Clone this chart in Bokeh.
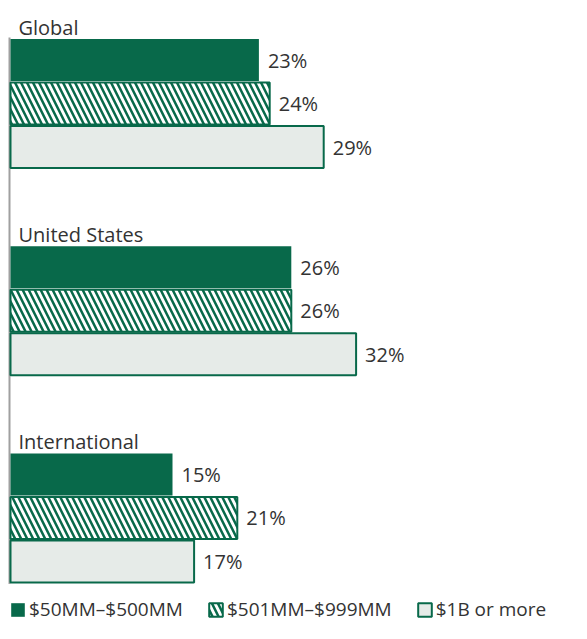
from bokeh.plotting import figure
from bokeh.models import Range1d, Legend, LegendItem, ColumnDataSource
from bokeh.core.properties import value
from bokeh.embed import file_html
from bokeh.resources import INLINE

# ---- data ----
groups = ["Global", "United States", "International"]
series_names = ["$50MM–$500MM", "$501MM–$999MM", "$1B or more"]
small = [23, 26, 15]
mid = [24, 26, 21]
large = [29, 32, 17]

# ---- layout constants ----
W, H = 571, 623
PX_PER_PCT = 10.8
X0 = 10.0              # pixel position of 0 %
FIRST_CENTER = 59.5
GROUP_PITCH = 207.2
BAR_PITCH = 43.5
BAR_H = 42.0

GREEN = "#08694a"
LIGHT = "#e6ebe8"
TEXT = "#333333"
AXIS = "#a0a0a0"
FONT = "Open Sans"

p = figure(width=W, height=H, output_backend="svg", toolbar_location=None,
           x_range=Range1d(-X0 / PX_PER_PCT, (W - X0) / PX_PER_PCT),
           y_range=Range1d(H, 0), min_border=0,
           x_axis_type=None, y_axis_type=None)
p.outline_line_color = None
p.grid.visible = False
p.background_fill_color = "white"
p.border_fill_color = "white"


def ys_for(s):
    return [FIRST_CENTER + g * GROUP_PITCH + s * BAR_PITCH for g in range(len(groups))]


series_vals = [small, mid, large]
styles = [
    dict(fill_color=GREEN, line_color=None),
    dict(fill_color="white", line_color=GREEN, line_width=2,
         hatch_pattern="left_diagonal_line", hatch_color=GREEN,
         hatch_scale=12, hatch_weight=2.5),
    dict(fill_color=LIGHT, line_color=GREEN, line_width=2),
]

# axis line
top = FIRST_CENTER - BAR_H / 2 - 1.5
bottom = ys_for(2)[-1] + BAR_H / 2 + 1.5
ax_x = -1.0 / PX_PER_PCT
p.segment(x0=[ax_x], y0=[top], x1=[ax_x], y1=[bottom],
          line_color=AXIS, line_width=2)

renderers = []
for s, (vals, st) in enumerate(zip(series_vals, styles)):
    src = ColumnDataSource(dict(y=ys_for(s), right=vals,
                                lab=[f"{v}%" for v in vals]))
    r = p.hbar(y="y", right="right", left=0, height=BAR_H, source=src, **st)
    renderers.append(r)
    p.text(x="right", y="y", text="lab", source=src, x_offset=9,
           text_baseline="middle", text_align="left",
           text_font=value(FONT), text_font_size="20px", text_color=TEXT)

# group labels
label_y = [FIRST_CENTER + g * GROUP_PITCH - 33 for g in range(len(groups))]
p.text(x=[0] * len(groups), y=label_y, text=groups, x_offset=8,
       text_baseline="alphabetic", text_align="left",
       text_font=value(FONT), text_font_size="20px", text_color=TEXT)

legend = Legend(
    items=[LegendItem(label=n, renderers=[r]) for n, r in zip(series_names, renderers)],
    orientation="horizontal", location=(9, 1),
    glyph_width=17, glyph_height=17, label_height=17, label_standoff=3,
    spacing=24, padding=0, margin=0,
    border_line_color=None, background_fill_alpha=0,
    label_text_font=FONT, label_text_font_size="19px", label_text_color=TEXT,
)
p.add_layout(legend)

open("out.html", "w").write(file_html(p, INLINE))
